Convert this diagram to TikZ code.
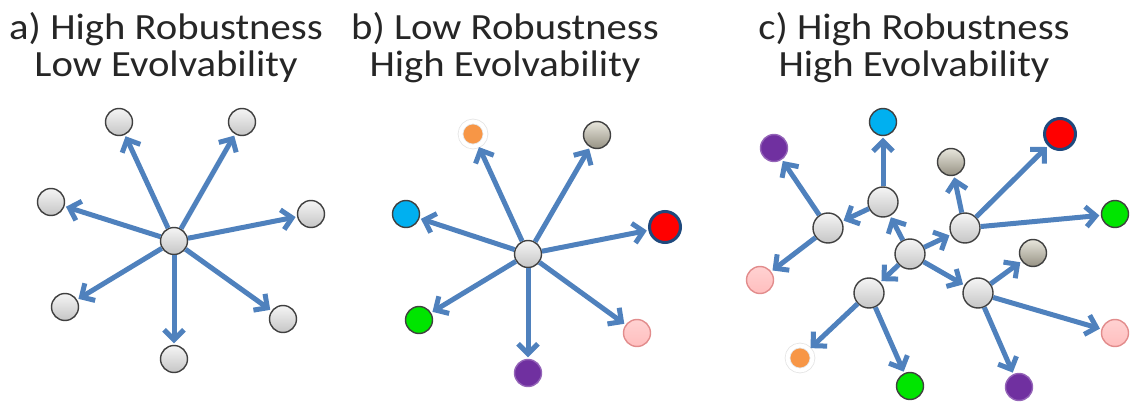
\documentclass[tikz,border=0pt]{standalone}
\usepackage{fontspec}
\setmainfont{Carlito}[FakeStretch=1.1]
\usepackage{xcolor}
\usetikzlibrary{arrows.meta}

\definecolor{linkblue}{RGB}{79,129,189}
\definecolor{ringblue}{RGB}{31,73,125}
\definecolor{skyblue}{RGB}{0,176,240}
\definecolor{violet}{RGB}{112,48,160}
\definecolor{pinkfill}{RGB}{255,190,190}
\definecolor{pinkedge}{RGB}{226,140,140}
\definecolor{orangefill}{RGB}{247,150,70}

\tikzset{
  dot/.style={circle, draw=black!75, line width=1.4pt, minimum size=27pt, inner sep=0pt,
    top color=gray!8, bottom color=gray!45},
  hub/.style={dot, minimum size=30pt},
  stone/.style={dot, top color={rgb,255:red,232;green,230;blue,220}, bottom color={rgb,255:red,150;green,146;blue,132}},
  bluedot/.style={dot, top color=skyblue, bottom color=skyblue},
  reddot/.style={dot, draw=ringblue, line width=3pt, minimum size=31pt, top color=red, bottom color=red},
  greendot/.style={dot, top color=green!90!black, bottom color=green!90!black},
  violetdot/.style={dot, draw=violet!75, top color=violet, bottom color=violet},
  pinkdot/.style={dot, draw=pinkedge, top color=pinkfill!70, bottom color=pinkfill},
  orangedot/.style={dot, draw=gray!20, line width=0.8pt, double=white, double distance=4pt,
    minimum size=25pt, top color=orangefill, bottom color=orangefill},
  link/.style={draw=linkblue, line width=5pt, -{Straight Barb[length=10pt,width=20pt]}, shorten >=1.5pt},
  title/.style={align=center, anchor=north, inner sep=0pt, text=black!85,
    font=\fontsize{37}{37}\selectfont}
}

\begin{document}
\begin{tikzpicture}[x=1pt,y=-1pt]
\useasboundingbox (0,0) rectangle (1130,406);

% titles
\node[title] (titleA) at (166,12) {a) High Robustness\\Low Evolvability};
\node[title] (titleB) at (505,12) {b) Low Robustness\\High Evolvability};
\node[title] (titleC) at (914,12) {c) High Robustness\\High Evolvability};

% a) one hub, grey leaves
\node[dot] (aHub) at (174,241) {};
\node[dot] (aTL) at (119,122) {};
\node[dot] (aTR) at (242,122) {};
\node[dot] (aL) at (51,202) {};
\node[dot] (aR) at (311,214) {};
\node[dot] (aBL) at (65,307) {};
\node[dot] (aB) at (174,359) {};
\node[dot] (aBR) at (283,319) {};

\draw[link] (aHub) -- (aTL);
\draw[link] (aHub) -- (aTR);
\draw[link] (aHub) -- (aL);
\draw[link] (aHub) -- (aR);
\draw[link] (aHub) -- (aBL);
\draw[link] (aHub) -- (aB);
\draw[link] (aHub) -- (aBR);

% b) one hub, coloured leaves
\node[dot] (bHub) at (528,254) {};
\node[orangedot] (bOrange) at (473,134) {};
\node[stone] (bStone) at (597,135) {};
\node[bluedot] (bBlue) at (406,214) {};
\node[reddot] (bRed) at (665,227) {};
\node[greendot] (bGreen) at (419,320) {};
\node[violetdot] (bViolet) at (528,373) {};
\node[pinkdot] (bPink) at (637,333) {};

\draw[link] (bHub) -- (bOrange);
\draw[link] (bHub) -- (bStone);
\draw[link] (bHub) -- (bBlue);
\draw[link] (bHub) -- (bRed);
\draw[link] (bHub) -- (bGreen);
\draw[link] (bHub) -- (bViolet);
\draw[link] (bHub) -- (bPink);

% c) hub of hubs
\node[hub] (cHub) at (910,254) {};
\node[hub] (cUp) at (883,202) {};
\node[hub] (cLeft) at (828,228) {};
\node[hub] (cRight) at (965,228) {};
\node[hub] (cLow) at (869,293) {};
\node[hub] (cLowR) at (978,293) {};

\node[bluedot] (cBlue) at (883,122) {};
\node[violetdot] (cViolet) at (774,148) {};
\node[pinkdot] (cPink) at (760,280) {};
\node[stone] (cStone) at (951,162) {};
\node[reddot] (cRed) at (1060,134) {};
\node[greendot] (cGreen) at (1115,214) {};
\node[stone] (cStoneR) at (1033,253) {};
\node[pinkdot] (cPinkR) at (1115,333) {};
\node[violetdot] (cVioletB) at (1019,387) {};
\node[orangedot] (cOrange) at (800,358) {};
\node[greendot] (cGreenB) at (910,386) {};

\draw[link] (cHub) -- (cUp);
\draw[link] (cHub) -- (cRight);
\draw[link] (cHub) -- (cLow);
\draw[link] (cHub) -- (cLowR);
\draw[link] (cUp) -- (cLeft);
\draw[link] (cUp) -- (cBlue);
\draw[link] (cLeft) -- (cViolet);
\draw[link] (cLeft) -- (cPink);
\draw[link] (cRight) -- (cStone);
\draw[link] (cRight) -- (cRed);
\draw[link] (cRight) -- (cGreen);
\draw[link] (cLowR) -- (cStoneR);
\draw[link] (cLowR) -- (cPinkR);
\draw[link] (cLowR) -- (cVioletB);
\draw[link] (cLow) -- (cOrange);
\draw[link] (cLow) -- (cGreenB);
\end{tikzpicture}
\end{document}
